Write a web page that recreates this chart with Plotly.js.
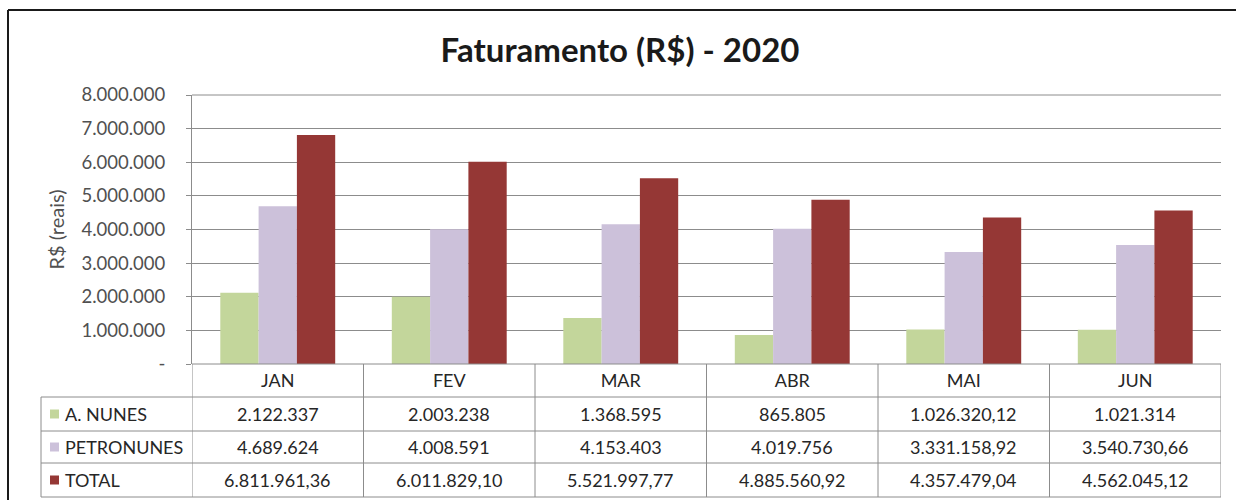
<!DOCTYPE html>
<html>
<head>
<meta charset="utf-8">
<script src="https://cdn.plot.ly/plotly-3.0.1.min.js"></script>
<style>html,body{margin:0;padding:0;background:#fff;}#chart{width:1240px;height:500px;}</style>
</head>
<body>
<div id="chart"></div>
<script>
const months = ["JAN", "FEV", "MAR", "ABR", "MAI", "JUN"];
const seriesNames = ["A. NUNES", "PETRONUNES", "TOTAL"];
const aNunes = [2122337, 2003238, 1368595, 865805, 1026320.12, 1021314];
const petronunes = [4689624, 4008591, 4153403, 4019756, 3331158.92, 3540730.66];
const total = [6811961.36, 6011829.10, 5521997.77, 4885560.92, 4357479.04, 4562045.12];
const yTickVals = [0, 1000000, 2000000, 3000000, 4000000, 5000000, 6000000, 7000000, 8000000];
const yTickText = ["-", "1.000.000", "2.000.000", "3.000.000", "4.000.000", "5.000.000", "6.000.000", "7.000.000", "8.000.000"];

const colors = ["#c3d69b", "#ccc1da", "#953735"];
const FONT = "Lato, 'Open Sans', sans-serif";
const seriesData = [aNunes, petronunes, total];

function fmtBR(v) {
  const isInt = Number.isInteger(v);
  const fixed = isInt ? String(v) : v.toFixed(2);
  const parts = fixed.split(".");
  const intPart = parts[0].replace(/\B(?=(\d{3})+(?!\d))/g, ".");
  return parts.length > 1 ? intPart + "," + parts[1] : intPart;
}

const traces = seriesData.map((vals, i) => ({
  type: "bar",
  name: seriesNames[i],
  x: months,
  y: vals,
  marker: {color: colors[i]},
  hoverinfo: "skip"
}));

const L = 192, R = 19, T = 95, B = 136;
const W = 1240 - L - R, H = 500 - T - B;
const py = p => (500 - B - p) / H;
const px = p => (p - L) / W;

const rowLines = [397, 431, 463, 497];
const rowCenters = [414, 447, 480];
const lineColor = "#8c8c8c";
const textColor = "#262626";

const shapes = [];
// outer chart border (left and top edges only are visible)
shapes.push({type: "line", xref: "paper", yref: "paper", x0: px(8), x1: px(8), y0: py(500), y1: py(10), line: {color: "#1a1a1a", width: 2}});
shapes.push({type: "line", xref: "paper", yref: "paper", x0: px(8), x1: px(1236), y0: py(10), y1: py(10), line: {color: "#1a1a1a", width: 2}});
rowLines.forEach(p => shapes.push({type: "line", xref: "paper", yref: "paper", x0: px(41), x1: 1, y0: py(p), y1: py(p),
  line: {color: lineColor, width: 1}}));
shapes.push({type: "line", xref: "paper", yref: "paper", x0: 0, x1: 1, y0: 0, y1: 0, line: {color: lineColor, width: 1}});
shapes.push({type: "line", xref: "paper", yref: "paper", x0: 0, x1: 1, y0: 1, y1: 1, line: {color: lineColor, width: 1}});
shapes.push({type: "line", xref: "paper", yref: "paper", x0: px(41), x1: px(41), y0: py(397), y1: py(497), line: {color: lineColor, width: 1}});
for (let k = 0; k <= months.length; k++) {
  shapes.push({type: "line", xref: "x", yref: "paper", x0: k - 0.5, x1: k - 0.5, y0: 0, y1: py(497),
    line: {color: lineColor, width: 1}});
}
rowCenters.forEach((c, i) => shapes.push({type: "rect", xref: "paper", yref: "paper",
  x0: px(50), x1: px(59), y0: py(c + 4.5), y1: py(c - 4.5), line: {width: 0}, fillcolor: colors[i]}));

const annotations = [];
seriesNames.forEach((nm, i) => annotations.push({xref: "paper", yref: "paper", x: px(63), y: py(rowCenters[i]),
  xanchor: "left", yanchor: "middle", text: nm, showarrow: false, font: {family: FONT, size: 18, color: textColor}}));
seriesData.forEach((vals, i) => vals.forEach((v, j) => annotations.push({xref: "x", yref: "paper", x: months[j],
  y: py(rowCenters[i]), xanchor: "center", yanchor: "middle", text: fmtBR(v), showarrow: false,
  font: {family: FONT, size: 18, color: textColor}})));

const layout = {
  width: 1240, height: 500,
  margin: {l: L, r: R, t: T, b: B},
  paper_bgcolor: "#ffffff", plot_bgcolor: "#ffffff",
  font: {family: FONT, color: "#404040"},
  title: {text: "<b>Faturamento (R$) - 2020</b>", x: 0.5, xref: "container", xanchor: "center", y: 1 - 50/500, yanchor: "middle",
    font: {family: FONT, size: 33, color: "#1a1a1a"}},
  showlegend: false,
  barmode: "group", bargap: 0.33, bargroupgap: 0,
  xaxis: {type: "category", range: [-0.5, 5.5], showgrid: false, zeroline: false, showline: false, ticks: "",
    tickfont: {family: FONT, size: 18, color: textColor}, ticklabelstandoff: 4, fixedrange: true},
  yaxis: {range: [0, 8000000], tickvals: yTickVals, ticktext: yTickText, showgrid: true, gridcolor: lineColor, gridwidth: 1,
    zeroline: false, showline: true, linecolor: lineColor, linewidth: 1, mirror: false, ticks: "outside", ticklen: 5, tickcolor: lineColor,
    tickfont: {family: FONT, size: 18.5, color: "#505050"}, ticklabelstandoff: 17,
    title: {text: "R$ (reais)", standoff: 11, font: {family: FONT, size: 20, color: "#505050"}}, fixedrange: true},
  shapes: shapes,
  annotations: annotations
};

Plotly.newPlot("chart", traces, layout, {displayModeBar: false, staticPlot: true});
</script>
</body>
</html>
